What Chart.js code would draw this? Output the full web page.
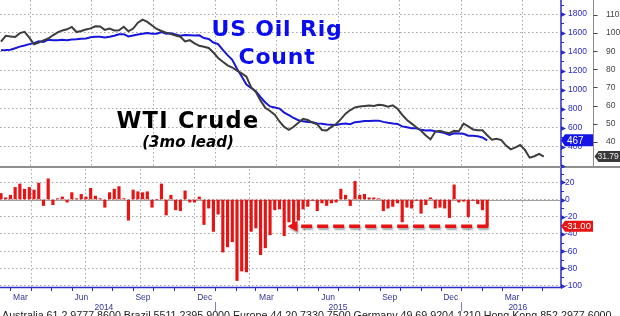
<!DOCTYPE html>
<html>
<head>
<meta charset="utf-8">
<title>US Oil Rig Count vs WTI Crude</title>
<script src="https://cdn.jsdelivr.net/npm/chart.js@4.4.1/dist/chart.umd.min.js"></script>
<style>
  html, body { margin: 0; padding: 0; background: #fff; }
  body { width: 620px; height: 316px; position: relative; overflow: hidden; }
  canvas { position: absolute; left: 0; }
  #topChart { top: 0; }
  #bottomChart { top: 168px; }
  .title { position: absolute; font-family: 'DejaVu Sans', Verdana, sans-serif; font-weight: bold;
           white-space: nowrap; text-align: center; transform: translateX(-50%); }
  #rigTitle { left: 277px; top: 15px; font-size: 22px; line-height: 28.3px; color: #0c0cf0; letter-spacing: 0.8px; }
  #wtiTitle { left: 188px; top: 109px; font-size: 22.5px; line-height: 22.5px; color: #000; letter-spacing: 1.3px; }
  #wtiSub { left: 188px; top: 135px; font-size: 15px; line-height: 15px; color: #000; font-style: italic; }
  #footer { position: absolute; left: 2px; top: 310px; font-family: 'Liberation Sans', Arial, sans-serif;
            font-size: 10.7px; line-height: 11px; color: #222; white-space: nowrap; }
</style>
</head>
<body>
<canvas id="topChart" width="620" height="168"></canvas>
<canvas id="bottomChart" width="620" height="148"></canvas>
<div class="title" id="rigTitle">US Oil Rig<br>Count</div>
<div class="title" id="wtiTitle">WTI Crude</div>
<div class="title" id="wtiSub">(3mo lead)</div>
<div id="footer">Australia 61 2 9777 8600 Brazil 5511 2395 9000 Europe 44 20 7330 7500 Germany 49 69 9204 1210 Hong Kong 852 2977 6000</div>

<script>
// weekly US oil rig count, Feb 14 2014 .. Feb 5 2016 (week index 0..103)
const rigCount = [
  1417, 1419, 1424, 1438, 1456, 1468, 1482, 1493, 1512, 1505,
  1529, 1523, 1524, 1527, 1524, 1532, 1533, 1539, 1542, 1555,
  1559, 1560, 1551, 1559, 1571, 1586, 1587, 1563, 1574, 1583,
  1591, 1600, 1591, 1591, 1609, 1591, 1596, 1584, 1571, 1578,
  1575, 1572, 1575, 1546, 1536, 1499, 1482, 1421, 1366, 1317,
  1223, 1140, 1056, 1019, 986, 922, 866, 825, 813, 802,
  760, 734, 703, 679, 668, 660, 659, 646, 642, 635,
  631, 628, 640, 645, 638, 659, 664, 670, 672, 674,
  675, 662, 652, 644, 640, 614, 605, 595, 594, 578,
  572, 574, 564, 555, 545, 524, 541, 538, 536, 516,
  515, 510, 498, 467
];

// weekly change of the rig count (bars)
const rigChange = [
  7, 2, 5, 14, 18, 12, 14, 11, 19, -7,
  24, -6, 1, 3, -3, 8, 1, 6, 3, 13,
  4, 1, -9, 8, 12, 15, 1, -24, 11, 9,
  8, 9, -9, 0, 18, -18, 5, -12, -13, 10,
  -3, -3, 3, -29, -10, -37, -17, -61, -55, -49,
  -94, -83, -84, -37, -33, -64, -56, -41, -12, -11,
  -42, -26, -31, -24, -11, -8, -1, -13, -4, -7,
  -4, -3, 12, 5, -7, 21, 5, 6, 2, 2,
  1, -13, -10, -8, -4, -26, -9, -10, -1, -16,
  -6, 2, -10, -9, -10, -21, 17, -3, -2, -20,
  -1, -5, -12, -31
];

// WTI crude, weekly, already shifted forward 3 months (week index 0..115)
const wtiLead = [
  95.3, 98.5, 98.2, 97.9, 100, 100.7, 97.5, 93.8, 94.8, 96,
  97, 98.8, 100.4, 101.5, 102.1, 103.4, 100.6, 101.2, 102, 102.6,
  103.8, 103.7, 101.8, 102.5, 101.5, 101.6, 103.5, 101, 102.5, 105.8,
  107.5, 106.2, 104.2, 102.3, 101.2, 100.3, 99.5, 98.7, 98, 95.4,
  96.1, 94.4, 93, 92.5, 91.8, 89.3, 86.3, 84.2, 82.2, 81,
  79.3, 77.8, 76, 70, 67.5, 62.7, 58.7, 57, 55, 51.2,
  48.2, 46.6, 48.3, 50.5, 52.6, 52, 50.6, 49.6, 46.5, 46.2,
  48.2, 49.8, 52.5, 55.5, 57.5, 59, 59.5, 59.8, 60, 59.8,
  60.4, 60.2, 59.4, 60.1, 58.3, 54.8, 52, 50, 48, 46.1,
  43.5, 41.4, 45.5, 46, 45.3, 44.7, 46, 45.8, 50, 48.5,
  46.8, 46.4, 46.3, 43.6, 41.1, 41.6, 40.9, 37.9, 35.8, 36.9,
  38.2, 35.5, 31.2, 32, 33.3, 31.79
];

// axes, in week units
const monthLabels = ['Mar', 'Jun', 'Sep', 'Dec', 'Mar', 'Jun', 'Sep', 'Dec', 'Mar'];
const monthLabelPos = [4.11, 17.03, 30.08, 43.16, 56.23, 69.28, 82.35, 95.28, 108.26];
const yearLabels = ['2014', '2015', '2016'];
const yearLabelPos = [21.8, 71.4, 109.5];
const yearSepPos = [45.34, 97.46];
const quarterPos = [6.29, 19.22, 32.27, 45.34, 58.41, 71.46, 84.53, 97.46, 110.44];
const monthTickPos = [1.95, 6.29, 10.59, 14.94, 19.22, 23.58, 27.97, 32.27, 36.65, 40.89, 45.34, 49.79, 53.81,
                      58.41, 62.71, 67.16, 71.46, 75.85, 80.30, 84.53, 88.88, 93.22, 97.46, 101.91, 106.14, 110.44, 114.72];
const rigTicks = [400, 600, 800, 1000, 1200, 1400, 1600, 1800];
const wtiTicks = [40, 50, 60, 70, 80, 90, 100, 110];
const changeTicks = [-100, -80, -60, -40, -20, 0, 20];
const arrowFromWeek = 60.7;

const X_MIN = -0.21, X_MAX = 118.43;
const BLUE = '#1717dc';
const AXIS_BLUE = '#2b2bc8';
const LABEL_BLUE = '#34349c';
const RED = '#e81414';
const GRID = '#a6a6a6';
const FONT = "'Liberation Sans', Arial, sans-serif";

Chart.defaults.font.family = FONT;

const setTicks = vals => scale => { scale.ticks = vals.map(v => ({ value: v })); };
const fixSize = (w, h) => scale => {
  if (w !== null) scale.width = w;
  if (h !== null) scale.height = h;
  scale.paddingTop = 0; scale.paddingBottom = 0; scale.paddingLeft = 0; scale.paddingRight = 0;
};

function marker(ctx, x, y, color) {
  ctx.fillStyle = color;
  ctx.beginPath();
  ctx.moveTo(x, y - 2.5);
  ctx.lineTo(x + 5, y);
  ctx.lineTo(x, y + 2.5);
  ctx.closePath();
  ctx.fill();
}

function tag(ctx, x, y, w, h, fill, text, textColor, font, textPad) {
  ctx.fillStyle = fill;
  ctx.beginPath();
  ctx.moveTo(x, y);
  ctx.lineTo(x + 4, y - h / 2);
  ctx.lineTo(x + w, y - h / 2);
  ctx.lineTo(x + w, y + h / 2);
  ctx.lineTo(x + 4, y + h / 2);
  ctx.closePath();
  ctx.fill();
  ctx.fillStyle = textColor;
  ctx.font = font;
  ctx.textAlign = 'left';
  ctx.textBaseline = 'middle';
  ctx.fillText(text, x + textPad, y + 0.5);
}

const topDecor = {
  id: 'topDecor',
  afterDraw(chart) {
    const { ctx, chartArea: a, scales: { rig, wti } } = chart;
    ctx.save();
    // panel separator
    ctx.fillStyle = '#8e8e8e';
    ctx.fillRect(0, a.bottom, chart.width, 2);
    // rig axis line
    ctx.strokeStyle = AXIS_BLUE;
    ctx.lineWidth = 1.5;
    ctx.beginPath(); ctx.moveTo(a.right + 1, 0); ctx.lineTo(a.right + 1, a.bottom); ctx.stroke();
    ctx.lineWidth = 1;
    for (let v = 200; v <= 1900; v += 100) {
      const y = Math.round(rig.getPixelForValue(v)) + 0.5;
      if (v % 200 === 0) marker(ctx, a.right + 1, y, AXIS_BLUE);
      else { ctx.beginPath(); ctx.moveTo(a.right + 1, y); ctx.lineTo(a.right + 4, y); ctx.stroke(); }
    }
    // wti axis line and ticks
    const wx = a.right + 33.5;
    ctx.strokeStyle = '#8a8a8a';
    ctx.beginPath(); ctx.moveTo(wx, 0); ctx.lineTo(wx, a.bottom); ctx.stroke();
    ctx.strokeStyle = '#444';
    wtiTicks.forEach(v => {
      const y = Math.round(wti.getPixelForValue(v)) + 0.5;
      ctx.beginPath(); ctx.moveTo(wx, y); ctx.lineTo(wx + 4, y); ctx.stroke();
    });
    // last value tags
    const lastRig = rigCount[rigCount.length - 1];
    tag(ctx, a.right + 1, rig.getPixelForValue(lastRig), 32, 12, '#1414e4', String(lastRig), '#fff', '10px ' + FONT, 6);
    const lastWti = wtiLead[wtiLead.length - 1];
    tag(ctx, wx + 1, wti.getPixelForValue(lastWti), 27, 11, '#3a3a3a', lastWti.toFixed(2), '#e8e8e8', '8.5px ' + FONT, 3);
    ctx.restore();
  }
};

const bottomDecor = {
  id: 'bottomDecor',
  beforeDatasetsDraw(chart) {
    const { ctx, chartArea: a, scales: { yb } } = chart;
    const y0 = Math.round(yb.getPixelForValue(0)) + 0.5;
    ctx.save();
    ctx.strokeStyle = '#a0a0a0';
    ctx.lineWidth = 1;
    ctx.beginPath(); ctx.moveTo(a.left, y0); ctx.lineTo(a.right, y0); ctx.stroke();
    ctx.restore();
  },
  afterDraw(chart) {
    const { ctx, chartArea: a, scales: { x, yb } } = chart;
    ctx.save();
    // axis lines
    ctx.strokeStyle = AXIS_BLUE;
    ctx.lineWidth = 1.5;
    ctx.beginPath();
    ctx.moveTo(a.right + 1, 0); ctx.lineTo(a.right + 1, a.bottom + 0.5);
    ctx.lineTo(a.left, a.bottom + 0.5);
    ctx.stroke();
    ctx.lineWidth = 1;
    for (let v = -100; v <= 30; v += 10) {
      const y = Math.round(yb.getPixelForValue(v)) + 0.5;
      if (v % 20 === 0) marker(ctx, a.right + 1, y, AXIS_BLUE);
      else { ctx.beginPath(); ctx.moveTo(a.right + 1, y); ctx.lineTo(a.right + 4, y); ctx.stroke(); }
    }
    monthTickPos.forEach(w => {
      const px = Math.round(x.getPixelForValue(w)) + 0.5;
      ctx.beginPath(); ctx.moveTo(px, a.bottom); ctx.lineTo(px, a.bottom + 4); ctx.stroke();
    });
    ctx.strokeStyle = '#8080c4';
    yearSepPos.forEach(w => {
      const px = Math.round(x.getPixelForValue(w)) + 0.5;
      ctx.beginPath(); ctx.moveTo(px, a.bottom + 15); ctx.lineTo(px, a.bottom + 24); ctx.stroke();
    });
    // month and year labels under the time axis
    ctx.fillStyle = LABEL_BLUE;
    ctx.font = '8.5px ' + FONT;
    ctx.textAlign = 'center';
    ctx.textBaseline = 'middle';
    monthLabels.forEach((t, i) => ctx.fillText(t, x.getPixelForValue(monthLabelPos[i]), a.bottom + 11));
    yearLabels.forEach((t, i) => ctx.fillText(t, x.getPixelForValue(yearLabelPos[i]), a.bottom + 21));
    // dashed arrow from the last bar back to the same level
    const last = rigChange[rigChange.length - 1];
    const ya = yb.getPixelForValue(last);
    const xEnd = x.getPixelForValue(rigChange.length - 1) + 1;
    const xTip = x.getPixelForValue(arrowFromWeek);
    ctx.shadowColor = 'rgba(0,0,0,0.35)';
    ctx.shadowBlur = 2;
    ctx.shadowOffsetX = 1;
    ctx.shadowOffsetY = 2;
    ctx.strokeStyle = RED;
    ctx.fillStyle = RED;
    ctx.lineWidth = 3.5;
    ctx.setLineDash([11, 5]);
    ctx.beginPath(); ctx.moveTo(xEnd, ya); ctx.lineTo(xTip + 9, ya); ctx.stroke();
    ctx.setLineDash([]);
    ctx.beginPath();
    ctx.moveTo(xTip, ya); ctx.lineTo(xTip + 10, ya - 5.5); ctx.lineTo(xTip + 10, ya + 5.5);
    ctx.closePath(); ctx.fill();
    ctx.shadowColor = 'transparent';
    tag(ctx, a.right + 1, ya, 32, 11, RED, last.toFixed(2), '#fff', '9.5px ' + FONT, 3);
    ctx.restore();
  }
};

const tickFont = { family: FONT, size: 8.5 };

new Chart(document.getElementById('topChart'), {
  type: 'line',
  data: {
    datasets: [
      {
        label: 'WTI Crude (3mo lead)',
        data: wtiLead.map((v, i) => ({ x: i, y: v })),
        yAxisID: 'wti',
        borderColor: '#3d3d3d',
        borderWidth: 2,
        pointRadius: 0,
        tension: 0
      },
      {
        label: 'US Oil Rig Count',
        data: rigCount.map((v, i) => ({ x: i, y: v })),
        yAxisID: 'rig',
        borderColor: BLUE,
        borderWidth: 2,
        pointRadius: 0,
        tension: 0
      }
    ]
  },
  options: {
    responsive: false,
    animation: false,
    devicePixelRatio: 1,
    layout: { padding: 0 },
    plugins: { legend: { display: false }, tooltip: { enabled: false } },
    scales: {
      x: {
        type: 'linear', position: 'bottom', min: X_MIN, max: X_MAX,
        afterBuildTicks: setTicks(quarterPos),
        ticks: { display: false },
        grid: { color: GRID, drawTicks: false },
        border: { display: false, dash: [1.5, 2.5] },
        afterFit: fixSize(null, 2)
      },
      rig: {
        type: 'linear', position: 'right', min: 196.4, max: 1947.7,
        afterBuildTicks: setTicks(rigTicks),
        ticks: { color: AXIS_BLUE, font: tickFont, padding: 8, callback: v => String(v) },
        grid: { color: GRID, drawTicks: false },
        border: { display: false, dash: [1.5, 2.5] },
        afterFit: fixSize(33, null)
      },
      wti: {
        type: 'linear', position: 'right', min: 26.6, max: 118.3,
        afterBuildTicks: setTicks(wtiTicks),
        ticks: { color: '#444', font: tickFont, padding: 5, callback: v => String(v) },
        grid: { display: false },
        border: { display: false },
        afterFit: fixSize(27, null)
      }
    }
  },
  plugins: [topDecor]
});

new Chart(document.getElementById('bottomChart'), {
  type: 'bar',
  data: {
    datasets: [{
      label: 'Rig count weekly change',
      data: rigChange.map((v, i) => ({ x: i, y: v })),
      xAxisID: 'x',
      yAxisID: 'yb',
      backgroundColor: RED,
      barThickness: 2.5
    }]
  },
  options: {
    responsive: false,
    animation: false,
    devicePixelRatio: 1,
    layout: { padding: { top: 1 } },
    plugins: { legend: { display: false }, tooltip: { enabled: false } },
    scales: {
      x: {
        type: 'linear', position: 'bottom', min: X_MIN, max: X_MAX, offset: false,
        ticks: { display: false },
        grid: { display: false, offset: false },
        border: { display: false },
        afterFit: fixSize(null, 29)
      },
      xq: {
        type: 'linear', position: 'top', min: X_MIN, max: X_MAX,
        afterBuildTicks: setTicks(quarterPos),
        ticks: { display: false },
        grid: { color: GRID, drawTicks: false },
        border: { display: false, dash: [1.5, 2.5] },
        afterFit: fixSize(null, 0)
      },
      yb: {
        type: 'linear', position: 'right', min: -101.5, max: 35.4,
        afterBuildTicks: setTicks(changeTicks),
        ticks: { color: AXIS_BLUE, font: tickFont, padding: 5, callback: v => String(v) },
        grid: { color: GRID, drawTicks: false },
        border: { display: false, dash: [1.5, 2.5] },
        afterFit: fixSize(60, null)
      }
    }
  },
  plugins: [bottomDecor]
});
</script>
</body>
</html>
